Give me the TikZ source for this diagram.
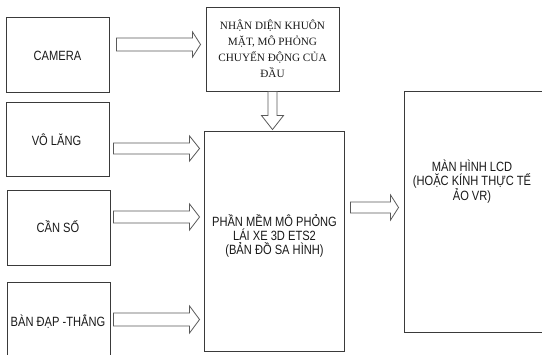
\documentclass[tikz,border=0pt]{standalone}
\usepackage{fontspec}
\setmainfont{Liberation Sans}[FakeStretch=0.83]
\newfontfamily\serifx{Liberation Serif}
\usetikzlibrary{calc}
\definecolor{boxline}{HTML}{3A3A3A}
\definecolor{arrline}{HTML}{5A5A5A}
\definecolor{txt}{HTML}{1A1A1A}
\tikzset{
  box/.style={draw=boxline, line width=0.9pt, fill=white, inner sep=0pt, align=center,
    text=txt, font=\fontsize{13.4}{14}\selectfont},
  serifbox/.style={box, font=\serifx\fontsize{11.2}{16}\selectfont},
  label/.style={inner sep=0pt, align=center, text=txt, font=\fontsize{13.4}{14}\selectfont},
  arr/.style={draw=arrline, line width=0.8pt, fill=white, line join=miter},
}
% horizontal block arrow: #1 start, #2 tip, #3 shaft half, #4 head half, #5 head length
\newcommand\harrow[5]{%
  \draw[arr] let \p1=#1, \p2=#2 in
    (\x1,\y1+#3) -- (\x2-#5,\y1+#3) -- (\x2-#5,\y1+#4) -- (\x2,\y1)
    -- (\x2-#5,\y1-#4) -- (\x2-#5,\y1-#3) -- (\x1,\y1-#3) -- cycle;}
% vertical block arrow downward
\newcommand\varrow[5]{%
  \draw[arr] let \p1=#1, \p2=#2 in
    (\x1+#3,\y1) -- (\x1+#3,\y2+#5) -- (\x1+#4,\y2+#5) -- (\x1,\y2)
    -- (\x1-#4,\y2+#5) -- (\x1-#3,\y2+#5) -- (\x1-#3,\y1) -- cycle;}
\begin{document}
\begin{tikzpicture}[x=1pt,y=-1pt]
\useasboundingbox (0,0) rectangle (542,355);
\clip (0,0) rectangle (542,355);
\fill[white] (0,0) rectangle (542,355);
% boxes
\node[box, minimum width=103pt, minimum height=75pt] (cam) at (57.5,54.5) {};
\node[label] (camtxt) at (57.5,56) {CAMERA};
\node[serifbox, minimum width=133pt, minimum height=84pt] (top) at (272.5,49)
  {NHẬN DIỆN KHUÔN\\MẶT, MÔ PHỎNG\\CHUYỂN ĐỘNG CỦA\\ĐẦU};
\node[box, minimum width=103pt, minimum height=74pt] (vol) at (57.5,139.5) {};
\node[label] (voltxt) at (56.5,140) {VÔ LĂNG};
\node[box, minimum width=103pt, minimum height=75pt] (can) at (58.5,227.5) {};
\node[label] (cantxt) at (58,227) {CẦN SỐ};
\node[box, minimum width=103pt, minimum height=80pt] (ban) at (58.5,322) {};
\node[label] (bantxt) at (58,322) {BÀN ĐẠP -THẲNG};
\node[box, minimum width=140pt, minimum height=220pt] (main) at (274,241) {};
\node[label] (maintxt) at (274.5,236) {PHẦN MỀM MÔ PHỎNG\\LÁI XE 3D ETS2\\(BẢN ĐỒ SA HÌNH)};
\node[box, minimum width=140pt, minimum height=241pt] (lcd) at (474,211.5) {};
\node[label] (lcdtxt) at (472,181.5) {MÀN HÌNH LCD\\(HOẶC KÍNH THỰC TẾ\\ẢO VR)};
% arrows
\coordinate (a1s) at ($(cam.east |- 0,44.5)+(7,0)$);
\coordinate (a1t) at ($(top.west |- 0,44.5)+(-5,0)$);
\harrow{(a1s)}{(a1t)}{6.5pt}{12.5pt}{8pt}
\coordinate (a2s) at ($(vol.east |- 0,148.5)+(4,0)$);
\coordinate (a2t) at ($(main.west |- 0,148.5)+(-4,0)$);
\harrow{(a2s)}{(a2t)}{5.5pt}{12.5pt}{10pt}
\coordinate (a3s) at ($(can.east |- 0,217)+(3,0)$);
\coordinate (a3t) at ($(main.west |- 0,217)+(-4,0)$);
\harrow{(a3s)}{(a3t)}{6pt}{13pt}{10pt}
\coordinate (a4s) at ($(ban.east |- 0,319.5)+(3,0)$);
\coordinate (a4t) at ($(main.west |- 0,319.5)+(-4,0)$);
\harrow{(a4s)}{(a4t)}{6.5pt}{13.5pt}{10pt}
\coordinate (a5s) at ($(main.east |- 0,207.5)+(6,0)$);
\coordinate (a5t) at ($(lcd.west |- 0,207.5)+(-5,0)$);
\harrow{(a5s)}{(a5t)}{5.5pt}{12.5pt}{8pt}
\coordinate (a6s) at (top.south);
\coordinate (a6t) at ($(main.north)+(0,-1)$);
\varrow{(a6s)}{(a6t)}{4.5pt}{11pt}{14pt}
\end{tikzpicture}
\end{document}
